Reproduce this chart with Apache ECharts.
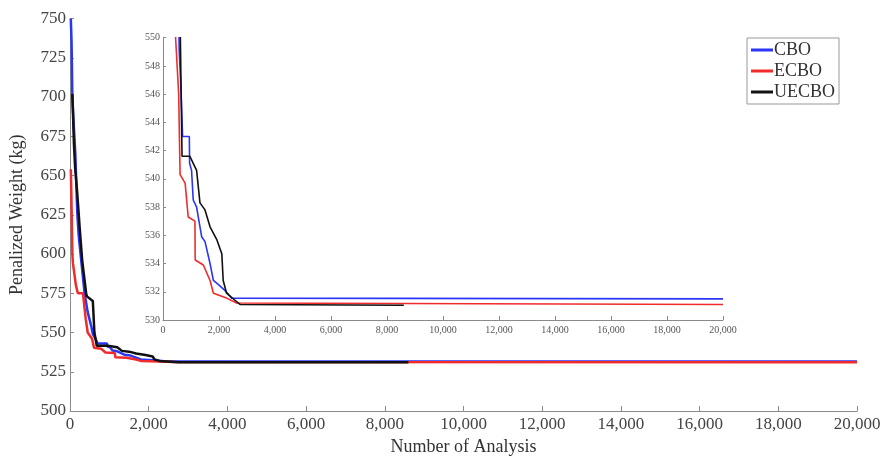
<!DOCTYPE html>
<html>
<head>
<meta charset="utf-8">
<script src="https://cdn.jsdelivr.net/npm/echarts@6/dist/echarts.min.js"></script>
<style>html,body{margin:0;padding:0;background:#fff}#c{width:889px;height:461px}</style>
</head>
<body>
<div id="c"></div>
<script>
// Data: [number of analysis, penalized weight (kg)]
var seriesNames = ['CBO', 'ECBO', 'UECBO'];
var cbo = [[20,750],[40,735],[60,700],[100,680],[135,664],[160,645],[185,626],[220,612],[285,596],[330,585],[370,575],[450,563],[540,554],[580,549],[640,546.5],[700,543],[940,543],[950,541.1],[1020,540.6],[1080,538.5],[1200,538.0],[1380,535.9],[1500,535.55],[1680,534.0],[1800,532.8],[1980,532.5],[2210,532.1],[2450,531.55],[20000,531.5]];
var ecbo = [[20,654],[33,640],[50,615],[60,600],[75,594],[150,580],[200,575],[330,575],[400,558.5],[450,550],[560,546],[610,540.3],[790,539.7],[900,537.3],[1140,537],[1150,534.25],[1440,533.9],[1680,532.8],[1800,531.9],[2270,531.55],[2630,531.2],[20000,531.1]];
var uecbo = [[60,702],[75,690],[100,670],[130,655],[180,640],[220,626],[245,617],[310,596],[410,575],[430,573],[580,570],[600,560],[620,550],[680,541.6],[960,541.6],[1080,541.1],[1200,540.6],[1320,538.3],[1500,537.8],[1680,536.6],[1920,535.7],[2100,534.7],[2150,532.8],[2270,531.9],[2570,531.4],[2750,531.1],[8600,531.05]];
var colors = ['#2b35f5', '#f02b2b', '#111111'];
var allData = [cbo, ecbo, uecbo];

var font = 'Liberation Serif';
function fmt(v){ return v.toLocaleString('en-US'); }

var series = [];
for (var g = 0; g < 2; g++) {
  for (var i = 0; i < 3; i++) {
    series.push({
      name: seriesNames[i], type: 'line', xAxisIndex: g, yAxisIndex: g,
      data: allData[i], showSymbol: false, symbol: 'none',
      lineStyle: {color: colors[i], width: g === 0 ? 2.5 : 1.6},
      itemStyle: {color: colors[i]}, clip: true, animation: false, z: 2 + i
    });
  }
}

var axisLine = {show: true, lineStyle: {color: '#8a8a8a', width: 1}};
var chart = echarts.init(document.getElementById('c'), null, {renderer: 'canvas'});
chart.setOption({
  animation: false,
  backgroundColor: '#fff',
  grid: [
    {left: 67, right: 32, top: 18.5, bottom: 45, containLabel: false},
    {left: 163, right: 166, top: 37.7, bottom: 141, containLabel: false}
  ],
  legend: {
    data: seriesNames, orient: 'vertical', left: 747, top: 38,
    padding: [2, 4, 2, 4], itemGap: 1, itemWidth: 22, itemHeight: 3, icon: 'rect',
    borderColor: '#999', borderWidth: 1, backgroundColor: '#fff',
    textStyle: {fontFamily: font, fontSize: 18, color: '#333', padding: [0,0,0,-4], lineHeight: 20}
  },
  xAxis: [
    {type: 'value', gridIndex: 0, min: 0, max: 20000, interval: 2000,
     axisLine: axisLine, splitLine: {show: false},
     axisTick: {show: true, inside: true, length: 5, lineStyle: {color: '#8a8a8a'}},
     axisLabel: {fontFamily: font, fontSize: 17, color: '#444', margin: 5, formatter: fmt},
     name: 'Number of Analysis', nameLocation: 'middle', nameGap: 27,
     nameTextStyle: {fontFamily: font, fontSize: 18, color: '#333'}},
    {type: 'value', gridIndex: 1, min: 0, max: 20000, interval: 2000,
     axisLine: axisLine, splitLine: {show: false},
     axisTick: {show: true, inside: true, length: 4, lineStyle: {color: '#8a8a8a'}},
     axisLabel: {fontFamily: font, fontSize: 10, color: '#555', margin: 5, formatter: fmt}}
  ],
  yAxis: [
    {type: 'value', gridIndex: 0, min: 500, max: 750, interval: 25,
     axisLine: axisLine, splitLine: {show: false},
     axisTick: {show: true, inside: true, length: 4, lineStyle: {color: '#8a8a8a'}},
     axisLabel: {fontFamily: font, fontSize: 17, color: '#444', margin: 4},
     name: 'Penalized Weight (kg)', nameLocation: 'middle', nameGap: 44, nameRotate: 90,
     nameTextStyle: {fontFamily: font, fontSize: 18, color: '#333'}},
    {type: 'value', gridIndex: 1, min: 530, max: 550, interval: 2,
     axisLine: axisLine, splitLine: {show: false},
     axisTick: {show: true, inside: true, length: 3, lineStyle: {color: '#8a8a8a'}},
     axisLabel: {fontFamily: font, fontSize: 10, color: '#555', margin: 3}}
  ],
  series: series
});
</script>
</body>
</html>
